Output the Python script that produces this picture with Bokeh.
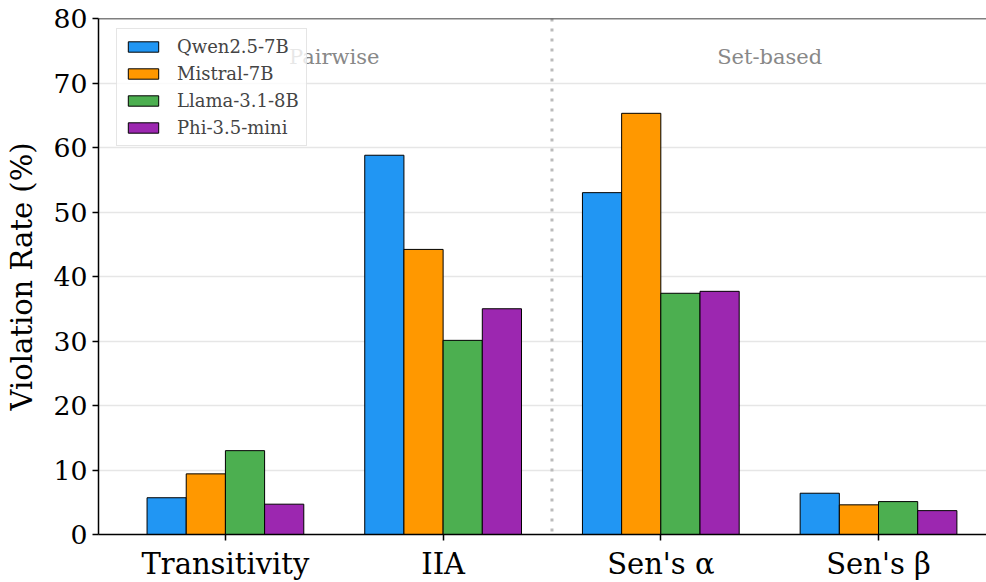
import numpy as np
from bokeh.plotting import figure
from bokeh.models import Range1d, FixedTicker, Span, Legend, LegendItem, ColumnDataSource
from bokeh.core.properties import value
from bokeh.embed import file_html
from bokeh.resources import INLINE

categories = ["Transitivity", "IIA", "Sen's α", "Sen's β"]
models = ["Qwen2.5-7B", "Mistral-7B", "Llama-3.1-8B", "Phi-3.5-mini"]
qwen = [5.7, 58.8, 53.0, 6.4]
mistral = [9.4, 44.2, 65.3, 4.6]
llama = [13.0, 30.1, 37.4, 5.1]
phi = [4.7, 35.0, 37.7, 3.7]
series = [qwen, mistral, llama, phi]
colors = ["#2196F3", "#FF9800", "#4CAF50", "#9C27B0"]
section_labels = ["Pairwise", "Set-based"]
section_x = [0.5, 2.5]
section_y = [74, 74]
divider_x = 1.5
y_max = 80

FONT = "DejaVu Serif"
bar_w = 0.18

p = figure(width=986, height=582, output_backend="svg", toolbar_location=None,
           x_range=Range1d(-0.583, 3.496), y_range=Range1d(0, y_max),
           min_border_left=98, min_border_top=18, min_border_bottom=48, min_border_right=0)
p.frame_width = 888
p.frame_height = 516

xs = np.arange(len(categories))
renderers = []
for i, (vals, col) in enumerate(zip(series, colors)):
    off = (i - 1.5) * bar_w
    src = ColumnDataSource(dict(x=xs + off, top=vals))
    r = p.vbar(x="x", top="top", width=bar_w, bottom=0, source=src,
               fill_color=col, line_color="black", line_width=1)
    renderers.append(r)

p.add_layout(Span(location=divider_x, dimension="height", line_color="#bbbbbb",
                  line_width=3, line_dash="3 7"))
p.add_layout(Span(location=y_max, dimension="width", line_color="black", line_width=1.5))

p.text(x=section_x, y=section_y, text=section_labels, text_align="center",
       text_baseline="middle", text_color="#888888", text_font=value(FONT),
       text_font_size="21px")

legend = Legend(items=[LegendItem(label=m, renderers=[r]) for m, r in zip(models, renderers)],
                location=(18, 388))
legend.label_text_font = FONT
legend.label_text_font_size = "18px"
legend.glyph_width = 38
legend.glyph_height = 13
legend.label_standoff = 15
legend.label_height = 21
legend.spacing = 6
legend.padding = 7
legend.margin = 0
legend.border_line_color = "#cccccc"
legend.border_line_width = 1.5
legend.background_fill_alpha = 0.8
p.add_layout(legend, "center")

p.xaxis.ticker = FixedTicker(ticks=list(xs))
p.xaxis.major_label_overrides = {int(i): c for i, c in zip(xs, categories)}
p.yaxis.ticker = FixedTicker(ticks=list(range(0, 81, 10)))

for ax in (p.xaxis, p.yaxis):
    ax.axis_line_color = "black"
    ax.axis_line_width = 1.5
    ax.major_tick_line_color = "black"
    ax.major_tick_line_width = 1.5
    ax.major_tick_out = 6
    ax.major_tick_in = 0
    ax.minor_tick_line_color = None
    ax.major_label_text_font = FONT
    ax.major_label_text_color = "black"

p.xaxis.major_label_text_font_size = "29px"
p.xaxis.major_label_standoff = 6
p.yaxis.major_label_text_font_size = "26.7px"
p.yaxis.major_label_standoff = 5
p.yaxis.axis_label = "Violation Rate (%)"
p.yaxis.axis_label_text_font = FONT
p.yaxis.axis_label_text_font_size = "29px"
p.yaxis.axis_label_text_font_style = "normal"
p.yaxis.axis_label_text_color = "black"
p.yaxis.axis_label_standoff = 12

p.xgrid.grid_line_color = None
p.ygrid.grid_line_color = "#e6e6e6"
p.ygrid.grid_line_width = 1.5
p.outline_line_color = None
p.background_fill_color = "white"
p.border_fill_color = "white"

open("out.html", "w").write(file_html(p, INLINE))
